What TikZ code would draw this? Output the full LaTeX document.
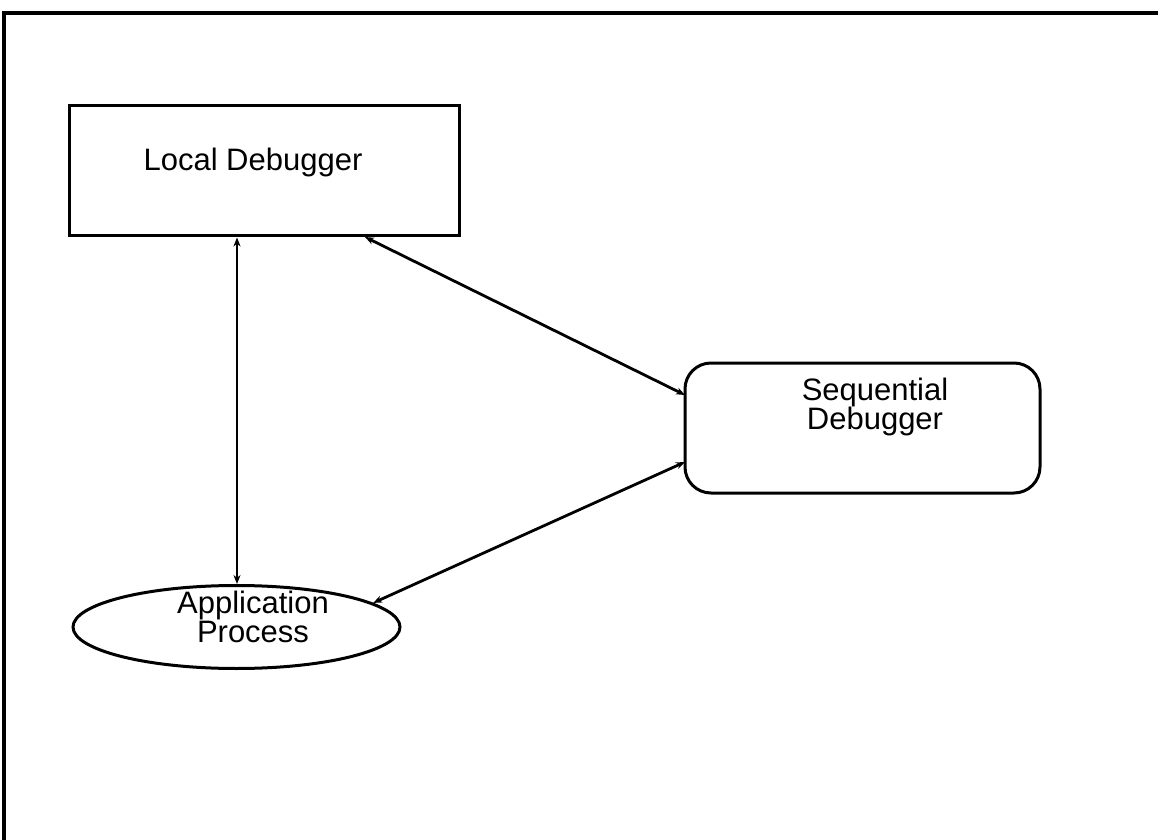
\documentclass[tikz,border=0pt]{standalone}
\usepackage{fontspec}
\setmainfont{Liberation Sans}
\usetikzlibrary{shapes.geometric,arrows.meta}
\begin{document}
\begin{tikzpicture}[x=0.5pt,y=-0.5pt,
  lbl/.style={font=\fontsize{15.5}{14.5}\selectfont, align=center, inner sep=0pt},
  box/.style={draw, line width=1.5pt, inner sep=0pt},
  link/.style={line width=1.4pt, {Stealth[length=4.5pt,width=3.5pt]}-{Stealth[length=4.5pt,width=3.5pt]}}
]
\useasboundingbox (0,0) rectangle (1158,840);
% page frame (top and left edges)
\coordinate (ftl) at (4,13);
\coordinate (ftr) at (1158,13);
\coordinate (fbl) at (4,840);
\draw[line width=1.7pt] (fbl) -- (ftl) -- (ftr);

% local debugger box
\node[box, minimum width=195pt, minimum height=65pt] (ld) at (264,171) {};
\node[lbl] (ldt) at (253,162) {Local Debugger};

% sequential debugger, rounded box
\node[box, rounded corners=13pt, minimum width=177.5pt, minimum height=65pt] (sd) at (862.5,428) {};
\node[lbl] (sdt) at (875,407) {Sequential\\Debugger};

% application process ellipse
\node[box, ellipse, minimum width=163.5pt, minimum height=41.5pt] (ap) at (236.5,627) {};
\node[lbl] (apt) at (253,617) {Application\\Process};

% links
\draw[link] (ld.south -| 237,0) -- (ap.north -| 237,0);
\coordinate (ldb) at (365,237);
\coordinate (sdu) at (685,395);
\coordinate (sdl) at (685,462);
\draw[link] (ldb) -- (sdu);
\draw[link] (sdl) -- (ap.10);
\end{tikzpicture}
\end{document}
